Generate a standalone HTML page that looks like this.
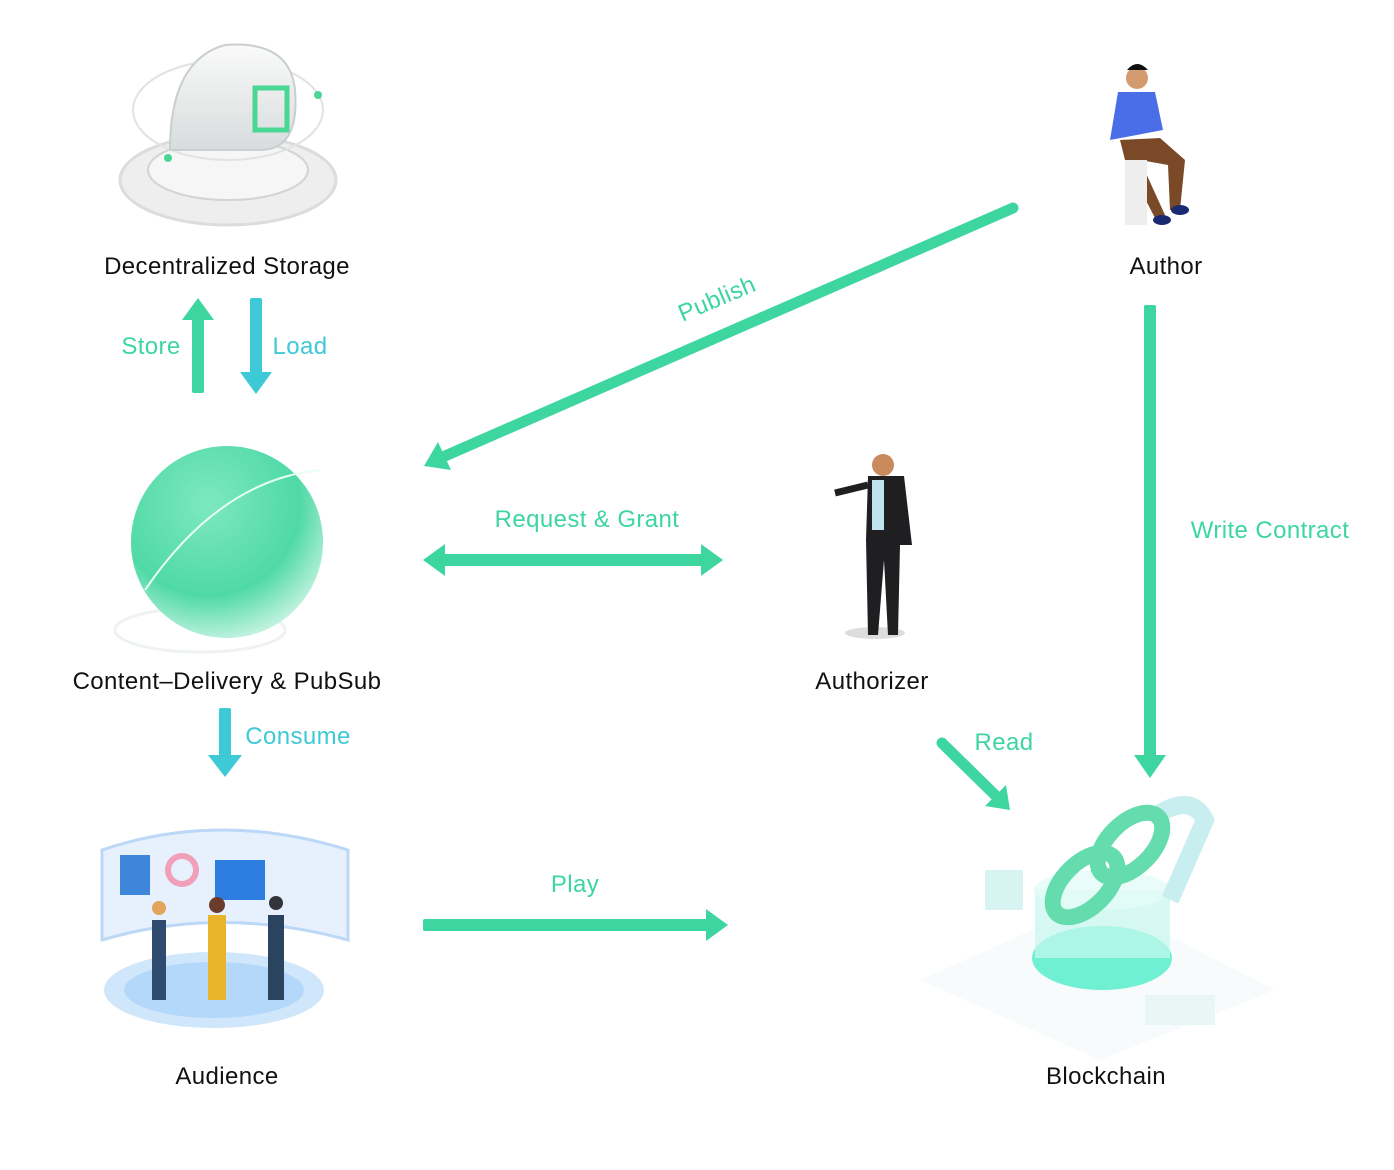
<!DOCTYPE html>
<html><head><meta charset="utf-8">
<style>
body{margin:0;background:#fff;}
svg{display:block;}
text{font-family:"Liberation Sans",sans-serif;font-size:24px;letter-spacing:0.4px;}
.lbl{fill:#111;text-anchor:middle;}
.g{fill:#3dd6a0;}
.c{fill:#3ec9d6;}
</style></head>
<body>
<svg width="1394" height="1170" viewBox="0 0 1394 1170">
<defs>
<radialGradient id="globe" cx="0.4" cy="0.3" r="0.8">
<stop offset="0" stop-color="#7ee8c0"/><stop offset="0.6" stop-color="#4fd9a6"/><stop offset="1" stop-color="#e8fbf3"/>
</radialGradient>
<linearGradient id="cloud" x1="0" y1="0" x2="0" y2="1"><stop offset="0" stop-color="#fafafa"/><stop offset="1" stop-color="#d8dcdc"/></linearGradient>
</defs>

<g>
<ellipse cx="228" cy="180" rx="108" ry="45" fill="#eeeeee" stroke="#dcdcdc" stroke-width="3"/>
<ellipse cx="228" cy="170" rx="80" ry="30" fill="#f6f6f6" stroke="#d0d4d4" stroke-width="2"/>
<ellipse cx="228" cy="110" rx="95" ry="50" fill="none" stroke="#e2e2e2" stroke-width="2"/>
<path d="M170 150 Q170 60 225 45 Q290 40 295 90 Q300 150 260 150 Z" fill="url(#cloud)" stroke="#c9cece" stroke-width="2"/>
<rect x="255" y="88" width="32" height="42" fill="none" stroke="#4ad694" stroke-width="5"/>
<circle cx="318" cy="95" r="4" fill="#4ad694"/><circle cx="168" cy="158" r="4" fill="#4ad694"/>
</g>
<text class="lbl" x="227" y="274">Decentralized Storage</text>

<g>
<rect x="192" y="318" width="12" height="75" rx="2" class="g"/>
<polygon points="182,320 198,298 214,320" class="g"/>
</g>
<text x="151" y="354" fill="#3dd6a0" text-anchor="middle">Store</text>
<g>
<rect x="250" y="298" width="12" height="75" rx="2" class="c"/>
<polygon points="240,372 256,394 272,372" class="c"/>
</g>
<text x="300" y="354" fill="#3ec9d6" text-anchor="middle">Load</text>

<g>
<ellipse cx="200" cy="630" rx="85" ry="22" fill="none" stroke="#eef3f1" stroke-width="3"/>
<circle cx="227" cy="542" r="96" fill="url(#globe)"/>
<path d="M145 590 Q220 480 320 470" fill="none" stroke="#e8fff6" stroke-width="2"/>
</g>
<text class="lbl" x="227" y="689">Content–Delivery &amp; PubSub</text>

<g>
<rect x="219" y="708" width="12" height="50" rx="2" class="c"/>
<polygon points="208,755 225,777 242,755" class="c"/>
</g>
<text x="298" y="744" fill="#3ec9d6" text-anchor="middle">Consume</text>

<g>
<ellipse cx="214" cy="990" rx="110" ry="38" fill="#cfe6fb"/>
<ellipse cx="214" cy="990" rx="90" ry="28" fill="#b4d8fa"/>
<path d="M102 850 Q220 810 348 850 L348 940 Q220 905 102 940 Z" fill="#e6f1fd" stroke="#bcd8f6" stroke-width="3"/>
<rect x="120" y="855" width="30" height="40" fill="#3d86d9"/>
<rect x="215" y="860" width="50" height="40" fill="#2d7ee0"/>
<circle cx="182" cy="870" r="14" fill="none" stroke="#f0a0b8" stroke-width="6"/>
<rect x="152" y="920" width="14" height="80" fill="#2f4b70"/><circle cx="159" cy="908" r="7" fill="#e2a35a"/>
<rect x="208" y="915" width="18" height="85" fill="#e8b52a"/><circle cx="217" cy="905" r="8" fill="#6b3b2b"/>
<rect x="268" y="915" width="16" height="85" fill="#2a4460"/><circle cx="276" cy="903" r="7" fill="#33333a"/>
</g>
<text class="lbl" x="227" y="1084">Audience</text>

<g>
<rect x="423" y="919" width="285" height="12" rx="2" class="g"/>
<polygon points="706,909 728,925 706,941" class="g"/>
</g>
<text x="575" y="892" fill="#3dd6a0" text-anchor="middle">Play</text>

<g>
<rect x="440" y="554" width="266" height="12" rx="2" class="g"/>
<polygon points="445,544 423,560 445,576" class="g"/>
<polygon points="701,544 723,560 701,576" class="g"/>
</g>
<text x="587" y="527" fill="#3dd6a0" text-anchor="middle">Request &amp; Grant</text>

<g>
<line x1="1013" y1="208" x2="445" y2="456" stroke="#3dd6a0" stroke-width="11" stroke-linecap="round"/>
<polygon points="424,466 438,442 451,470" class="g"/>
</g>
<text x="720" y="306" fill="#3dd6a0" text-anchor="middle" transform="rotate(-23 720 306)">Publish</text>

<g>
<ellipse cx="875" cy="633" rx="30" ry="6" fill="#ddd"/>
<circle cx="883" cy="465" r="11" fill="#c98a5e"/>
<path d="M868 476 L904 476 L912 545 L900 545 L898 635 L888 635 L884 560 L878 635 L868 635 L866 540 Z" fill="#1f1f22"/>
<rect x="872" y="480" width="12" height="50" fill="#bfe4f0"/>
<line x1="868" y1="485" x2="835" y2="493" stroke="#1f1f22" stroke-width="7"/>
</g>
<text class="lbl" x="872" y="689">Authorizer</text>

<g>
<circle cx="1137" cy="78" r="11" fill="#d49a70"/>
<path d="M1127 70 Q1137 58 1148 70 Z" fill="#111"/>
<path d="M1118 92 L1155 92 L1163 130 L1110 140 Z" fill="#4a6ee8"/>
<path d="M1120 140 L1160 138 L1185 160 L1180 210 L1170 210 L1168 165 L1140 160 L1165 215 L1155 218 L1125 160 Z" fill="#7a4a28"/>
<rect x="1125" y="160" width="22" height="65" fill="#eeeeee"/>
<ellipse cx="1180" cy="210" rx="9" ry="5" fill="#1a2a70"/><ellipse cx="1162" cy="220" rx="9" ry="5" fill="#1a2a70"/>
</g>
<text class="lbl" x="1166" y="274">Author</text>

<g>
<rect x="1144" y="305" width="12" height="452" rx="2" class="g"/>
<polygon points="1134,755 1150,778 1166,755" class="g"/>
</g>
<text x="1270" y="538" fill="#3dd6a0" text-anchor="middle">Write Contract</text>

<g>
<line x1="942" y1="743" x2="995" y2="795" stroke="#3dd6a0" stroke-width="11" stroke-linecap="round"/>
<polygon points="1010,810 985,806 1006,785" class="g"/>
</g>
<text x="1004" y="750" fill="#3dd6a0" text-anchor="middle">Read</text>

<g>
<polygon points="920,980 1100,900 1275,990 1100,1060" fill="#f7fbfb"/>
<ellipse cx="1102" cy="958" rx="70" ry="32" fill="#6ff0d2"/>
<rect x="1035" y="890" width="135" height="68" fill="#c7f6ee" opacity="0.7"/>
<ellipse cx="1102" cy="890" rx="68" ry="20" fill="#e4fbf7" opacity="0.8"/>
<path d="M1150 820 Q1190 790 1205 820 L1170 900" fill="none" stroke="#c8eef0" stroke-width="18"/>
<g fill="none" stroke="#64dcae" stroke-width="16">
<ellipse cx="1130" cy="845" rx="22" ry="40" transform="rotate(45 1130 845)"/>
<ellipse cx="1085" cy="885" rx="22" ry="40" transform="rotate(45 1085 885)"/>
</g>
<rect x="985" y="870" width="38" height="40" fill="#d7f3f2"/>
<rect x="1145" y="995" width="70" height="30" fill="#e9f6f6"/>
</g>
<text class="lbl" x="1106" y="1084">Blockchain</text>
</svg>
</body></html>
